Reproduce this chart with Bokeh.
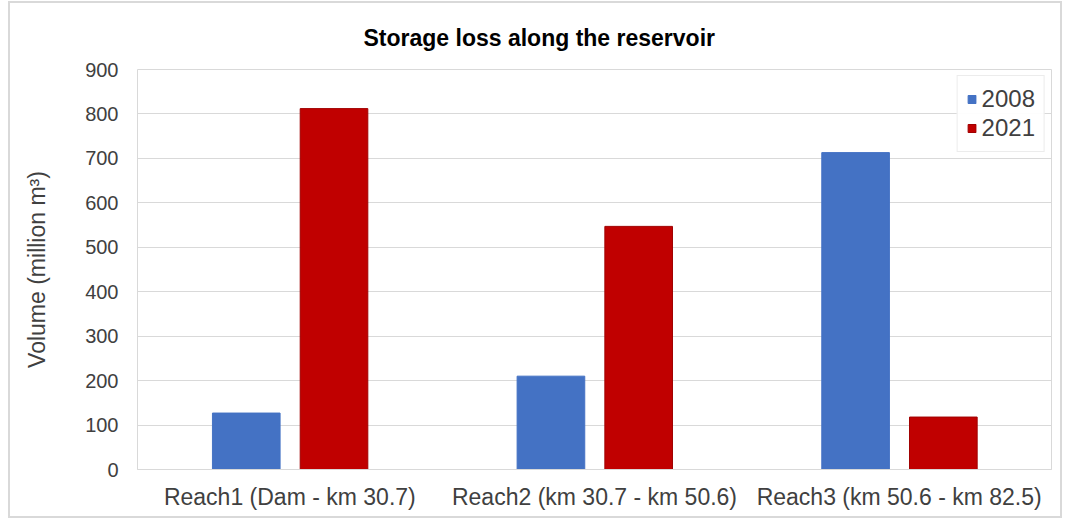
from bokeh.plotting import figure
from bokeh.models import FactorRange, Range1d, SingleIntervalTicker, ColumnDataSource, Legend, LegendItem
from bokeh.transform import dodge
from bokeh.embed import file_html
from bokeh.resources import INLINE

categories = ["Reach1 (Dam - km 30.7)", "Reach2 (km 30.7 - km 50.6)", "Reach3 (km 50.6 - km 82.5)"]
series_names = ["2008", "2021"]
values_2008 = [127, 210, 713]
values_2021 = [812, 547, 118]
colors = ["#4472C4", "#C00000"]

FONT = "Liberation Sans"
TXT = "#404040"

src = ColumnDataSource(dict(cat=categories, v2008=values_2008, v2021=values_2021))

p = figure(x_range=FactorRange(*categories), y_range=Range1d(0, 900),
           width=1054, height=517, output_backend="svg", toolbar_location=None,
           min_border_left=127, min_border_right=13, min_border_top=62, min_border_bottom=51,
           title="Storage loss along the reservoir",
           styles={"border": "2px solid #d9d9d9", "box-sizing": "border-box",
                   "margin": "1px 0px 0px 8px"})

r1 = p.vbar(x=dodge("cat", -0.143, range=p.x_range), top="v2008", width=0.222,
            source=src, fill_color=colors[0], line_color=colors[0])
r2 = p.vbar(x=dodge("cat", 0.145, range=p.x_range), top="v2021", width=0.222,
            source=src, fill_color=colors[1], line_color="#a00000")

p.title.text_font = FONT
p.title.text_font_size = "23px"
p.title.text_font_style = "bold"
p.title.text_color = "#000000"
p.title.align = "left"
p.title.offset = 226
p.title.standoff = 38
p.title.text_line_height = 1.0

p.outline_line_color = "#d9d9d9"
p.outline_line_width = 1
p.background_fill_color = "white"

p.xgrid.grid_line_color = None
p.ygrid.grid_line_color = "#d9d9d9"
p.ygrid.grid_line_width = 1

p.yaxis.ticker = SingleIntervalTicker(interval=100)
p.yaxis.axis_line_color = None
p.yaxis.major_tick_line_color = None
p.yaxis.minor_tick_line_color = None
p.yaxis.major_label_text_font = FONT
p.yaxis.major_label_text_font_size = "20px"
p.yaxis.major_label_text_color = TXT
p.yaxis.major_label_standoff = 13
p.yaxis.axis_label = "Volume (million m³)"
p.yaxis.axis_label_text_font = FONT
p.yaxis.axis_label_text_font_size = "23px"
p.yaxis.axis_label_text_font_style = "normal"
p.yaxis.axis_label_text_color = TXT
p.yaxis.axis_label_standoff = 32

p.xaxis.axis_line_color = "#d9d9d9"
p.xaxis.major_tick_line_color = None
p.xaxis.minor_tick_line_color = None
p.xaxis.major_label_text_font = FONT
p.xaxis.major_label_text_font_size = "23px"
p.xaxis.major_label_text_color = TXT
p.xaxis.major_label_standoff = 8

legend = Legend(items=[LegendItem(label=series_names[0], renderers=[r1]),
                       LegendItem(label=series_names[1], renderers=[r2])],
                location="top_right")
legend.label_text_font = FONT
legend.label_text_font_size = "24px"
legend.label_text_color = TXT
legend.glyph_width = 10
legend.glyph_height = 10
legend.label_standoff = 5
legend.spacing = 1
legend.padding = 9
legend.margin = 6
legend.border_line_color = "#d9d9d9"
legend.background_fill_color = "white"
p.add_layout(legend)

open("out.html", "w").write(file_html(p, INLINE))
